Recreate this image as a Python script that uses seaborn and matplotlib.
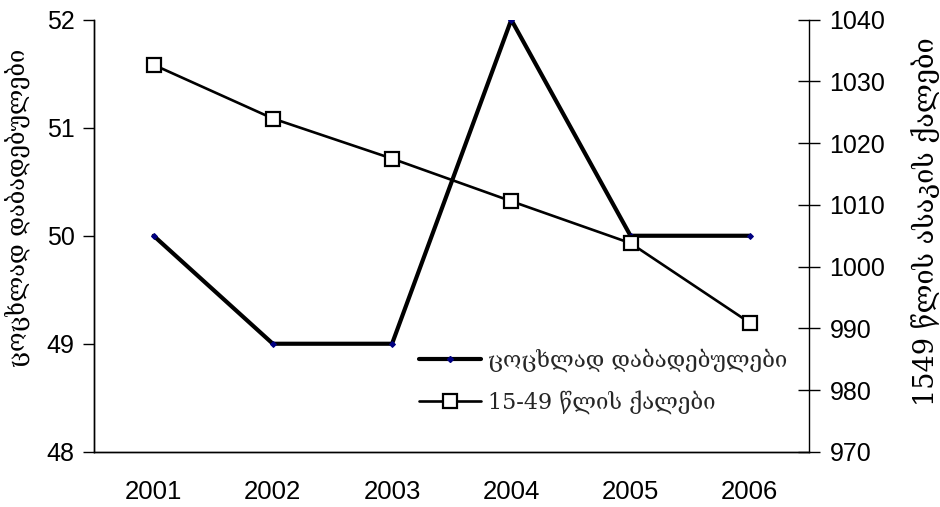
import matplotlib
matplotlib.use('Agg')
import matplotlib.pyplot as plt
import pandas as pd
import seaborn as sns
from matplotlib.lines import Line2D

# DATA
YEARS = ['2001', '2002', '2003', '2004', '2005', '2006']
BIRTHS = [50, 49, 49, 52, 50, 50]  # left axis
WOMEN = [1032.7, 1024.0, 1017.5, 1010.6, 1003.8, 990.9]  # right axis
BIRTHS_LABEL = 'ცოცხლად დაბადებულები'
WOMEN_LABEL = '15-49 წლის ქალები'
RIGHT_AXIS_LABEL = '1549 წლის ასაკის ქალები'

sns.set_style('white')
plt.rcParams['font.family'] = ['Liberation Sans', 'DejaVu Sans']
GEO_FONT = ['DejaVu Serif', 'DejaVu Sans']

df = pd.DataFrame({'year': YEARS, 'births': BIRTHS, 'women': WOMEN})

fig = plt.figure(figsize=(9.4, 5.07), dpi=100)
ax = fig.add_axes([0.1, 0.109, 0.761, 0.852])
ax2 = ax.twinx()

sns.lineplot(x='year', y='births', data=df, ax=ax, color='black',
             linewidth=3.0, marker='D', markersize=3,
             markerfacecolor='#000080', markeredgecolor='#000080',
             sort=False)
sns.lineplot(x='year', y='women', data=df, ax=ax2, color='black',
             linewidth=1.9, marker='s', markersize=10,
             markerfacecolor='white', markeredgecolor='black',
             markeredgewidth=1.6, sort=False)

ax.set_xlim(-0.5, 5.5)
ax.set_ylim(48, 52)
ax.set_yticks([48, 49, 50, 51, 52])
ax2.set_ylim(970, 1040)
ax2.set_yticks(range(970, 1041, 10))

# x ticks at category boundaries, labels centred
ax.set_xticks([i - 0.5 for i in range(len(YEARS) + 1)])
ax.set_xticklabels([])
ax.set_xticks(range(len(YEARS)), minor=True)
ax.set_xticklabels(YEARS, minor=True)
ax.tick_params(axis='x', which='major', direction='out', length=8,
               width=1, color='black')
ax.tick_params(axis='x', which='minor', length=0, labelsize=18.5, pad=20,
               labelcolor='black')
ax.tick_params(axis='y', direction='out', length=8, width=1,
               color='black', labelsize=18, pad=6, labelcolor='black')
ax2.tick_params(axis='y', direction='inout', length=16, width=1,
                color='black', labelsize=18, pad=6.5, labelcolor='black')

for a in (ax, ax2):
    a.spines['top'].set_visible(False)
    for s in ('left', 'right', 'bottom'):
        a.spines[s].set_color('black')
        a.spines[s].set_linewidth(1)
ax.spines['right'].set_visible(False)

ax.set_xlabel('')
ax.set_ylabel(BIRTHS_LABEL, family=GEO_FONT, fontsize=17, color='black')
ax.yaxis.set_label_coords(-0.09, 0.565)
ax2.set_ylabel(RIGHT_AXIS_LABEL, family=GEO_FONT, fontsize=19.5,
               color='black')
ax2.yaxis.set_label_coords(1.142, 0.532)

handles = [
    Line2D([], [], color='black', linewidth=3.0, marker='D', markersize=3,
           markerfacecolor='#000080', markeredgecolor='#000080'),
    Line2D([], [], color='black', linewidth=1.9, marker='s', markersize=10,
           markerfacecolor='white', markeredgecolor='black',
           markeredgewidth=1.6),
]
ax2.legend(handles, [BIRTHS_LABEL, WOMEN_LABEL], loc='upper left',
           bbox_to_anchor=(0.4336, 0.334), bbox_transform=fig.transFigure,
           frameon=False, prop={'family': GEO_FONT, 'size': 16},
           handlelength=2.8, handletextpad=0.3, labelspacing=0.8,
           borderpad=0)

fig.savefig('out.png', dpi=100)
